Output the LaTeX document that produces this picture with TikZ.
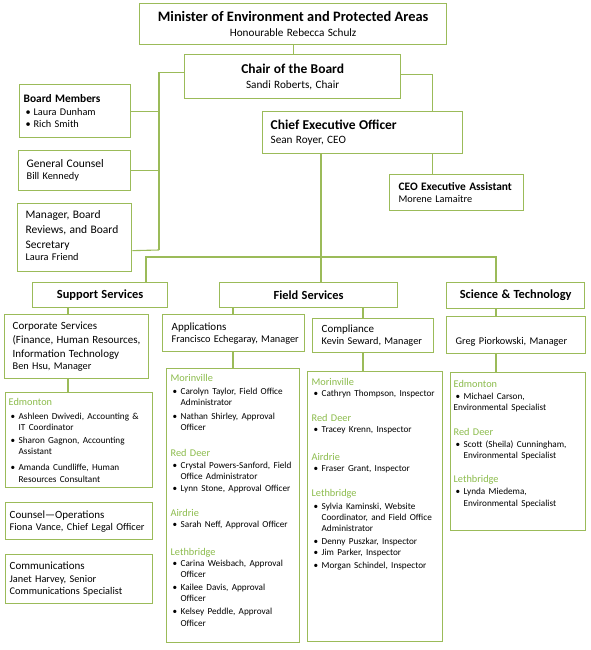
\documentclass[tikz,border=0pt]{standalone}
\usepackage{fontspec}
\setmainfont{Carlito}

\definecolor{olv}{RGB}{155,187,89}
\definecolor{loc}{RGB}{140,188,76}

% font switches
\newcommand{\fTop}{\fontsize{14.4}{16}\selectfont\bfseries}
\newcommand{\fHead}{\fontsize{13.5}{16}\selectfont\bfseries}
\newcommand{\fSub}{\fontsize{11.2}{16}\selectfont\mdseries}
\newcommand{\fDiv}{\fontsize{12.4}{14}\selectfont\bfseries}
\newcommand{\fUnit}{\fontsize{11}{14}\selectfont\mdseries}
\newcommand{\fUnitL}{\fontsize{11.5}{14}\selectfont\mdseries}
\newcommand{\fUnitB}{\fontsize{11.4}{14}\selectfont\bfseries}
\newcommand{\fName}{\fontsize{10.3}{13.5}\selectfont\mdseries}
\newcommand{\fLoc}{\fontsize{10.3}{11}\selectfont\mdseries\color{loc}}
\newcommand{\fItem}{\fontsize{9.2}{11}\selectfont\mdseries\color{black}}
\newcommand{\bul}{\makebox[10pt][l]{\hspace{2pt}\textbullet}}
\newcommand{\ind}{\hspace*{10pt}}
\newcommand{\tail}[1]{\vrule width0pt height0pt depth#1}

\tikzset{
  box/.style={draw=olv, line width=1.3pt, fill=white, anchor=north west, inner ysep=0pt},
  cbox/.style={box, align=center, inner xsep=4pt},
  lbox/.style={box, align=left},
  link/.style={draw=olv, line width=1.1pt}
}

\begin{document}
\hyphenpenalty=10000 \exhyphenpenalty=10000
\begin{tikzpicture}[x=1pt, y=-1pt]
  \useasboundingbox (0,0) rectangle (590,650);

  % top of the chart
  \node[cbox, minimum width=307pt, minimum height=41pt, text width=299pt] (minister) at (139,3)
    {\fTop Minister of Environment and Protected Areas\\[3pt] \fSub Honourable Rebecca Schulz};
  \node[cbox, minimum width=216pt, minimum height=44pt, text width=208pt] (chair) at (184,54)
    {\fHead Chair of the Board\\[3pt] \fSub Sandi Roberts, Chair};
  \node[lbox, minimum width=200pt, minimum height=42pt, inner xsep=8pt, text width=184pt] (ceo) at (262,111)
    {\fHead Chief Executive Officer\\[2pt] \fSub Sean Royer, CEO\tail{2pt}};
  \node[lbox, minimum width=134pt, minimum height=36pt, inner xsep=9pt, text width=116pt] (ea) at (389,174)
    {\fUnitB CEO Executive Assistant\\ \fName Morene Lamaitre};

  % board side
  \node[lbox, minimum width=111pt, minimum height=53pt, inner xsep=4pt, text width=103pt] (board) at (19,84)
    {\fUnitB Board Members\\ \fName\bul Laura Dunham\\ \bul Rich Smith};
  \node[lbox, minimum width=112pt, minimum height=40pt, inner xsep=8pt, text width=96pt] (counsel) at (18,150)
    {\fUnitL General Counsel\\ \fName Bill Kennedy};
  \node[lbox, minimum width=114pt, minimum height=68pt, inner xsep=8pt, text width=98pt] (mgr) at (17,203)
    {\fUnitL Manager,~Board\\[1pt] Reviews,~and~Board\\[1pt] Secretary\\ \fName Laura~Friend\tail{4pt}};

  % divisions
  \node[cbox, minimum width=135pt, minimum height=25pt, text width=127pt] (support) at (32,282)
    {\fDiv Support Services};
  \node[cbox, minimum width=178pt, minimum height=25pt, text width=170pt] (field) at (219,282)
    {\fDiv Field Services};
  \node[cbox, minimum width=138pt, minimum height=26pt, text width=130pt] (science) at (446,282)
    {\fDiv Science \& Technology};

  % units
  \node[lbox, minimum width=144pt, minimum height=64pt, inner xsep=8pt, text width=128pt] (corp) at (4,314)
    {\fUnit Corporate~Services\\ (Finance,~Human~Resources,\\ Information~Technology\\ \fName Ben~Hsu,~Manager};
  \node[lbox, minimum width=142pt, minimum height=37pt, inner xsep=9pt, text width=124pt] (apps) at (162,314)
    {\fUnit Applications\\ \fName Francisco~Echegaray,~Manager};
  \node[lbox, minimum width=121pt, minimum height=34pt, inner xsep=9pt, text width=103pt] (comp) at (312,318)
    {\fUnit Compliance\\ \fName Kevin~Seward,~Manager};
  \node[lbox, minimum width=139pt, minimum height=37pt, inner xsep=9pt, text width=121pt] (greg) at (446,316)
    {\fName\strut\\ Greg~Piorkowski,~Manager};

  % staff lists
  \node[lbox, minimum width=147pt, minimum height=95pt, inner xsep=3pt, text width=141pt] (edm) at (5,392)
    {\fLoc Edmonton\\[3pt]
     \fItem\bul Ashleen~Dwivedi,~Accounting~\&\\ \ind IT Coordinator\\[2pt]
     \bul Sharon~Gagnon,~Accounting\\ \ind Assistant\\[5pt]
     \bul Amanda~Cundliffe,~Human\\ \ind Resources~Consultant};
  \node[lbox, minimum width=147pt, minimum height=37pt, inner xsep=4pt, text width=139pt] (counselops) at (5,502)
    {\fUnit Counsel\textemdash Operations\\ \fName Fiona~Vance,~Chief~Legal~Officer};
  \node[lbox, minimum width=147pt, minimum height=49pt, inner xsep=4pt, text width=139pt] (comms) at (5,554)
    {\fUnit Communications\\ \fName Janet~Harvey,~Senior\\ Communications~Specialist};

  \node[lbox, minimum width=133pt, minimum height=274pt, inner xsep=4pt, text width=125pt] (appslist) at (166,368)
    {\fLoc Morinville\\[2pt]
     \fItem\bul Carolyn~Taylor,~Field~Office\\ \ind Administrator\\[3pt]
     \bul Nathan~Shirley,~Approval\\ \ind Officer\\[15pt]
     \fLoc Red Deer\\[1pt]
     \fItem\bul Crystal~Powers-Sanford,~Field\\ \ind Office~Administrator\\[1pt]
     \bul Lynn~Stone,~Approval~Officer\\[14pt]
     \fLoc Airdrie\\
     \fItem\bul Sarah~Neff,~Approval~Officer\\[17pt]
     \fLoc Lethbridge\\
     \fItem\bul Carina~Weisbach,~Approval\\ \ind Officer\\[2pt]
     \bul Kailee~Davis,~Approval\\ \ind Officer\\[2pt]
     \bul Kelsey~Peddle,~Approval\\ \ind Officer\tail{10pt}};
  \node[lbox, minimum width=135pt, minimum height=270pt, inner xsep=4pt, text width=127pt] (complist) at (307,371)
    {\fLoc Morinville\\
     \fItem\bul Cathryn~Thompson,~Inspector\\[14pt]
     \fLoc Red Deer\\
     \fItem\bul Tracey~Krenn,~Inspector\\[17pt]
     \fLoc Airdrie\\
     \fItem\bul Fraser~Grant,~Inspector\\[14pt]
     \fLoc Lethbridge\\[2pt]
     \fItem\bul Sylvia~Kaminski,~Website\\ \ind Coordinator,~and~Field~Office\\ \ind Administrator\\[2pt]
     \bul Denny~Puszkar,~Inspector\\
     \bul Jim~Parker,~Inspector\\[1pt]
     \bul Morgan~Schindel,~Inspector\tail{66pt}};
  \node[lbox, minimum width=135pt, minimum height=158pt, inner xsep=3pt, text width=129pt] (scilist) at (450,372)
    {\fLoc Edmonton\\[1pt]
     \fItem\bul Michael~Carson,\\ Environmental~Specialist\\[14pt]
     \fLoc Red Deer\\[1pt]
     \fItem\bul Scott~(Sheila)~Cunningham,\\ \ind Environmental~Specialist\\[13pt]
     \fLoc Lethbridge\\[1pt]
     \fItem\bul Lynda~Miedema,\\ \ind Environmental~Specialist\tail{17pt}};

  % connectors
  \coordinate (spine) at (159,250);
  \coordinate (hub) at (321,257);
  \coordinate (barL) at (146,257);
  \coordinate (barR) at (496,257);
  \coordinate (c1) at (68,0);
  \coordinate (c2) at (233,0);
  \coordinate (c3) at (363,0);

  \draw[link] (minister.south) -- (minister.south |- chair.north);
  \draw[link] ([yshift=4pt]chair.west) -| (spine);
  \draw[link] (board.east) -- (board.east -| spine);
  \draw[link] (counsel.east) -- (counsel.east -| spine);
  \draw[link] ([yshift=-13pt]mgr.east) -- (spine);
  \draw[link] ([yshift=2pt]chair.east) -| ([xshift=70pt]ceo.north);
  \draw[link] ([xshift=70pt]ceo.south) -- ([xshift=70pt]ceo.south |- ea.north);
  \draw[link] (ceo.south -| hub) -- (hub |- field.north);
  \draw[link] (support.north -| barL) |- (barR) -- (science.north -| barR);
  \foreach \a/\b/\c in {support/corp/c1, corp/edm/c1, field/apps/c2, apps/appslist/c2,
                        field/comp/c3, comp/complist/c3, science/greg/barR, greg/scilist/barR}
    \draw[link] (\a.south -| \c) -- (\b.north -| \c);
\end{tikzpicture}
\end{document}
